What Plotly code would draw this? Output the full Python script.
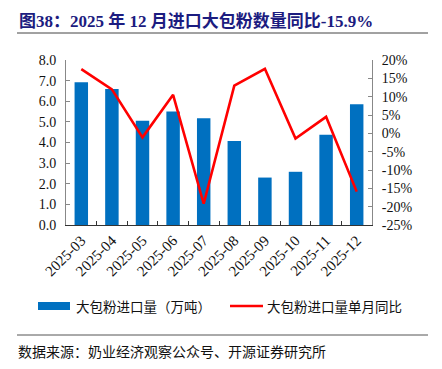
import plotly.graph_objects as go

months = ["2025-03", "2025-04", "2025-05", "2025-06", "2025-07",
          "2025-08", "2025-09", "2025-10", "2025-11", "2025-12"]
volume = [6.92, 6.60, 5.05, 5.50, 5.17, 4.07, 2.30, 2.58, 4.37, 5.85]
yoy = [17.5, 12.0, -1.1, 10.5, -19.2, 13.0, 17.6, -1.4, 4.5, -15.9]

left_ticks = [0, 1, 2, 3, 4, 5, 6, 7, 8]
left_labels = [f"{v:.1f}" for v in left_ticks]
right_ticks = [-25, -20, -15, -10, -5, 0, 5, 10, 15, 20]
right_labels = [f"{v}%" for v in right_ticks]

title = "图38：2025 年 12 月进口大包粉数量同比-15.9%"
bar_name = "大包粉进口量（万吨）"
line_name = "大包粉进口量单月同比"
source = "数据来源：奶业经济观察公众号、开源证券研究所"

BLUE = "#0070C0"
RED = "#FF0000"
SERIF = "Liberation Serif, Times New Roman, Noto Sans CJK SC, serif"
CJK = "Noto Sans CJK SC, sans-serif"

W, H = 442, 369
L, R, T, B = 66, 70, 60, 144
PW, PH = W - L - R, H - T - B


def px(x):
    return (x - L) / PW


def py(y):
    return (H - B - y) / PH


fig = go.Figure()
fig.add_trace(go.Bar(x=months, y=volume, name=bar_name, marker_color=BLUE,
                     marker_line_width=0, yaxis="y"))
fig.add_trace(go.Scatter(x=months, y=yoy, name=line_name, mode="lines",
                         line=dict(color=RED, width=2.6), yaxis="y2"))

fig.update_layout(
    width=W, height=H,
    margin=dict(l=L, r=R, t=T, b=B),
    paper_bgcolor="white", plot_bgcolor="white",
    showlegend=False,
    bargap=0.56,
    font=dict(family=SERIF, size=14, color="#111"),
    xaxis=dict(
        type="category", tickangle=-45, showgrid=False,
        showline=True, linecolor="#333", linewidth=1,
        ticks="inside", ticklen=4, tickcolor="#333",
        tickson="boundaries",
        tickfont=dict(family=SERIF, size=15, color="#111"),
        range=[-0.5, 9.5],
    ),
    yaxis=dict(
        range=[0, 8], tickvals=left_ticks, ticktext=left_labels,
        showgrid=False, zeroline=False,
        showline=True, linecolor="#888", linewidth=1,
        ticks="inside", ticklen=4, tickcolor="#888",
        tickfont=dict(family=SERIF, size=14, color="#111"),
        ticklabelstandoff=6,
    ),
    yaxis2=dict(
        range=[-25, 20], tickvals=right_ticks, ticktext=right_labels,
        overlaying="y", side="right", showgrid=False, zeroline=False,
        showline=True, linecolor="#888", linewidth=1,
        ticks="inside", ticklen=4, tickcolor="#888",
        tickfont=dict(family=SERIF, size=14, color="#111"),
        ticklabelstandoff=6,
    ),
)

shapes = [
    dict(type="line", xref="paper", yref="paper", x0=px(17), x1=px(428),
         y0=py(33), y1=py(33), line=dict(color="#444", width=1)),
    dict(type="rect", xref="paper", yref="paper", x0=px(38), x1=px(70),
         y0=py(310), y1=py(302), fillcolor=BLUE, line_width=0),
    dict(type="line", xref="paper", yref="paper", x0=px(230), x1=px(263),
         y0=py(306), y1=py(306), line=dict(color=RED, width=2.6)),
    dict(type="line", xref="paper", yref="paper", x0=px(17), x1=px(428),
         y0=py(335), y1=py(335), line=dict(color="#555", width=1)),
]

annotations = [
    dict(text=f"<b>{title}</b>", xref="paper", yref="paper", x=px(17), y=py(21),
         xanchor="left", yanchor="middle", showarrow=False,
         font=dict(family=SERIF, size=17, color="#1C1C80")),
    dict(text=bar_name, xref="paper", yref="paper", x=px(74), y=py(306),
         xanchor="left", yanchor="middle", showarrow=False,
         font=dict(family=CJK, size=13.5, color="#111")),
    dict(text=line_name, xref="paper", yref="paper", x=px(265), y=py(306),
         xanchor="left", yanchor="middle", showarrow=False,
         font=dict(family=CJK, size=13.5, color="#111")),
    dict(text=source, xref="paper", yref="paper", x=px(16), y=py(351),
         xanchor="left", yanchor="middle", showarrow=False,
         font=dict(family=CJK, size=14, color="#111")),
]

fig.update_layout(shapes=shapes, annotations=annotations)
fig.write_html("out.html",
               config={"displayModeBar": False},
               post_script="document.body.style.margin='0';document.body.style.padding='0';")
